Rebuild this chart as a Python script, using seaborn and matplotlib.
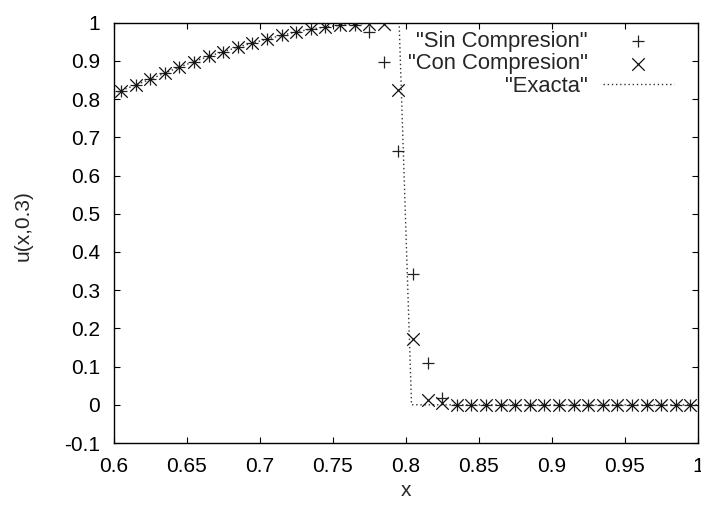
import numpy as np
import pandas as pd
import seaborn as sns
import matplotlib
matplotlib.use("Agg")
import matplotlib.pyplot as plt

# puntos de la malla (x) y solucion numerica u(x,0.3)
x_pts = [0.605, 0.615, 0.625, 0.635, 0.645, 0.655, 0.665, 0.675, 0.685, 0.695,
         0.705, 0.715, 0.725, 0.735, 0.745, 0.755, 0.765, 0.775, 0.785, 0.795,
         0.805, 0.815, 0.825, 0.835, 0.845, 0.855, 0.865, 0.875, 0.885, 0.895,
         0.905, 0.915, 0.925, 0.935, 0.945, 0.955, 0.965, 0.975, 0.985, 0.995]

sin_comp = [0.822, 0.837, 0.852, 0.868, 0.884, 0.898, 0.912, 0.924, 0.936, 0.947,
            0.957, 0.967, 0.976, 0.983, 0.989, 0.993, 0.995, 0.976, 0.898, 0.663,
            0.342, 0.109, 0.019, 0.0, 0.0, 0.0, 0.0, 0.0, 0.0, 0.0,
            0.0, 0.0, 0.0, 0.0, 0.0, 0.0, 0.0, 0.0, 0.0, 0.0]

con_comp = [0.822, 0.837, 0.852, 0.868, 0.884, 0.898, 0.912, 0.924, 0.936, 0.947,
            0.957, 0.967, 0.976, 0.983, 0.989, 0.993, 0.995, 0.997, 0.997, 0.824,
            0.172, 0.013, 0.004, 0.0, 0.0, 0.0, 0.0, 0.0, 0.0, 0.0,
            0.0, 0.0, 0.0, 0.0, 0.0, 0.0, 0.0, 0.0, 0.0, 0.0]

# solucion exacta
x_exact = [0.6, 0.605, 0.615, 0.625, 0.635, 0.645, 0.655, 0.665, 0.675, 0.685,
           0.695, 0.705, 0.715, 0.725, 0.735, 0.745, 0.755, 0.765, 0.775, 0.785,
           0.7955, 0.804, 1.0]
u_exact = [0.815, 0.822, 0.837, 0.852, 0.868, 0.884, 0.898, 0.912, 0.924, 0.936,
           0.947, 0.957, 0.967, 0.976, 0.983, 0.989, 0.993, 0.996, 0.999, 1.0,
           1.0, 0.0, 0.0]

num = pd.DataFrame({"x": x_pts, "sin": sin_comp, "con": con_comp})
exacta = pd.DataFrame({"x": x_exact, "u": u_exact})

sns.set_theme(style="ticks")
plt.rcParams['font.family'] = ['Liberation Sans', 'DejaVu Sans']

fig = plt.figure(figsize=(7.01, 5.07), dpi=100)
ax = fig.add_axes([0.1622, 0.1262, 0.8331, 0.829])

sns.scatterplot(data=num, x="x", y="sin", marker="+", s=81, color="#222222",
                linewidth=0.9, ax=ax, label='"Sin Compresion"', zorder=3)
sns.scatterplot(data=num, x="x", y="con", marker="x", s=81, color="#111111",
                linewidth=0.9, ax=ax, label='"Con Compresion"', zorder=3)
sns.lineplot(data=exacta, x="x", y="u", estimator=None, sort=False, color="#333333",
             linewidth=1.0, linestyle=(0, (1, 2)), ax=ax, label='"Exacta"', zorder=2)

ax.set_xlim(0.6, 1.0)
ax.set_ylim(-0.1, 1.0)
ax.set_xticks([0.6, 0.65, 0.7, 0.75, 0.8, 0.85, 0.9, 0.95, 1.0])
ax.set_xticklabels(["0.6", "0.65", "0.7", "0.75", "0.8", "0.85", "0.9", "0.95", "1"])
ax.set_yticks([-0.1, 0, 0.1, 0.2, 0.3, 0.4, 0.5, 0.6, 0.7, 0.8, 0.9, 1.0])
ax.set_yticklabels(["-0.1", "0", "0.1", "0.2", "0.3", "0.4", "0.5", "0.6", "0.7",
                    "0.8", "0.9", "1"])
ax.tick_params(direction="in", length=4.5, width=0.8, top=True, right=True,
               labelsize=15, pad=10, color="black", labelcolor="black")
for sp in ax.spines.values():
    sp.set_visible(True)
    sp.set_color("black")
    sp.set_linewidth(1.0)

ax.set_xlabel("x", fontsize=15, labelpad=4)
ax.set_ylabel("u(x,0.3)", fontsize=15)
ax.yaxis.set_label_coords(-0.138, 0.517)

leg = ax.legend(loc="upper right", bbox_to_anchor=(1.0, 1.038), frameon=False,
                markerfirst=False, fontsize=15.8, handlelength=3.2, handletextpad=0.7,
                labelspacing=0.07, borderaxespad=0.8, borderpad=0.3, scatterpoints=1)

fig.savefig("out.png", dpi=100)
